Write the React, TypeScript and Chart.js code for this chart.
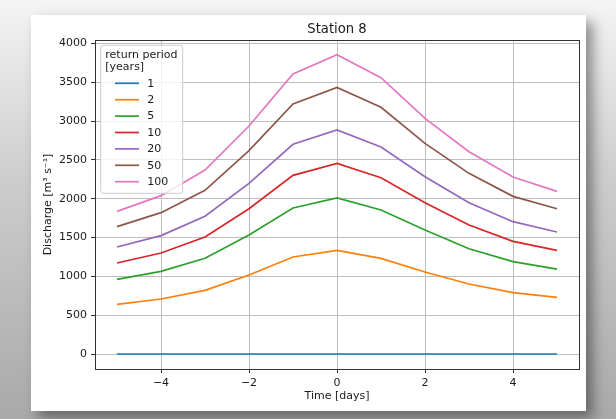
import React, { useEffect, useRef } from "react";
import { Chart, registerables } from "chart.js";

Chart.register(...registerables);

// ---- data ----
const chartTitle = "Station 8";
const xLabel = "Time [days]";
const yLabel = "Discharge [m\u00B3 s\u207B\u00B9]";
const legendTitle = ["return period", "[years]"];
const days = [-5, -4, -3, -2, -1, 0, 1, 2, 3, 4, 5];
const returnPeriods = ["1", "2", "5", "10", "20", "50", "100"];
const q1 = [0, 0, 0, 0, 0, 0, 0, 0, 0, 0, 0];
const q2 = [639, 708, 820, 1017, 1249, 1335, 1232, 1056, 901, 790, 730];
const q5 = [961, 1064, 1232, 1532, 1880, 2009, 1854, 1597, 1356, 1189, 1094];
const q10 = [1172, 1300, 1506, 1871, 2300, 2455, 2270, 1948, 1661, 1451, 1335];
const q20 = [1378, 1524, 1773, 2197, 2700, 2884, 2665, 2283, 1948, 1704, 1571];
const q50 = [1640, 1820, 2107, 2618, 3219, 3433, 3176, 2712, 2326, 2030, 1871];
const q100 = [1837, 2039, 2369, 2936, 3605, 3854, 3558, 3034, 2605, 2279, 2094];
const seriesValues = [q1, q2, q5, q10, q20, q50, q100];
const seriesColors = ["#1f77b4", "#ff7f0e", "#2ca02c", "#d62728", "#9467bd", "#8c564b", "#e377c2"];
const xTicks = [-4, -2, 0, 2, 4];
const yTicks = [0, 500, 1000, 1500, 2000, 2500, 3000, 3500, 4000];
const xMin = -5.5;
const xMax = 5.5;
const yMin = -193;
const yMax = 4043;

const FONT = "'DejaVu Sans', 'Liberation Sans', sans-serif";
const TEXT = "#1a1a1a";

const fmt = (v: number) => (v < 0 ? "\u2212" + Math.abs(v) : String(v));

const decorPlugin = {
  id: "decor",
  afterDatasetsDraw(chart: any) {
    const { ctx, chartArea } = chart;
    const { left, right, top, bottom } = chartArea;
    ctx.save();
    ctx.strokeStyle = "#333333";
    ctx.lineWidth = 1;
    ctx.strokeRect(Math.round(left) + 0.5, Math.round(top) + 0.5, Math.round(right - left), Math.round(bottom - top));
    ctx.fillStyle = TEXT;
    ctx.font = `13.2px ${FONT}`;
    ctx.textAlign = "center";
    ctx.textBaseline = "alphabetic";
    ctx.fillText(chartTitle, (left + right) / 2, top - 6.7);
    ctx.restore();
  },
  afterDraw(chart: any) {
    const { ctx, chartArea } = chart;
    const bx = chartArea.left + 5.7;
    const by = chartArea.top + 5.3;
    const bw = 82;
    const bh = 148;
    ctx.save();
    ctx.beginPath();
    const r = 2.5;
    ctx.moveTo(bx + r, by);
    ctx.lineTo(bx + bw - r, by);
    ctx.arcTo(bx + bw, by, bx + bw, by + r, r);
    ctx.lineTo(bx + bw, by + bh - r);
    ctx.arcTo(bx + bw, by + bh, bx + bw - r, by + bh, r);
    ctx.lineTo(bx + r, by + bh);
    ctx.arcTo(bx, by + bh, bx, by + bh - r, r);
    ctx.lineTo(bx, by + r);
    ctx.arcTo(bx, by, bx + r, by, r);
    ctx.closePath();
    ctx.fillStyle = "rgba(255,255,255,0.8)";
    ctx.fill();
    ctx.strokeStyle = "#cccccc";
    ctx.lineWidth = 1;
    ctx.stroke();
    ctx.font = `11px ${FONT}`;
    ctx.fillStyle = TEXT;
    ctx.textAlign = "left";
    ctx.textBaseline = "middle";
    legendTitle.forEach((t, i) => ctx.fillText(t, bx + 4.6, by + 9.6 + 12 * i));
    returnPeriods.forEach((label, i) => {
      const cy = by + 38 + 16.4 * i;
      ctx.strokeStyle = seriesColors[i];
      ctx.lineWidth = 1.7;
      ctx.beginPath();
      ctx.moveTo(bx + 14.3, cy);
      ctx.lineTo(bx + 38.3, cy);
      ctx.stroke();
      ctx.fillText(label, bx + 46.6, cy + 0.5);
    });
    ctx.restore();
  },
};

export default function App() {
  const ref = useRef<HTMLCanvasElement | null>(null);
  useEffect(() => {
    if (!ref.current) return;
    const chart = new Chart(ref.current, {
      type: "line",
      data: {
        datasets: seriesValues.map((vals, i) => ({
          label: returnPeriods[i],
          data: days.map((d, j) => ({ x: d, y: vals[j] })),
          borderColor: seriesColors[i],
          backgroundColor: seriesColors[i],
          borderWidth: 1.7,
          pointRadius: 0,
          tension: 0,
          fill: false,
        })),
      },
      options: {
        responsive: false,
        animation: false,
        devicePixelRatio: 1,
        layout: { padding: { top: 25, right: 7, bottom: 0, left: 0 } },
        plugins: { legend: { display: false }, tooltip: { enabled: false }, title: { display: false } },
        scales: {
          x: {
            type: "linear",
            min: xMin,
            max: xMax,
            afterBuildTicks: (s: any) => {
              s.ticks = xTicks.map((v) => ({ value: v }));
            },
            afterFit: (s: any) => {
              s.height = 42;
            },
            border: { display: false },
            grid: { color: "#bdbdbd", lineWidth: 1, tickLength: 4, tickColor: "#333333", drawTicks: true },
            ticks: { padding: 4, color: TEXT, font: { size: 11, family: FONT }, maxRotation: 0, callback: (v: any) => fmt(Number(v)) },
            title: { display: true, text: xLabel, color: TEXT, font: { size: 11, family: FONT }, padding: { top: 0, bottom: 8 } },
          },
          y: {
            type: "linear",
            min: yMin,
            max: yMax,
            afterBuildTicks: (s: any) => {
              s.ticks = yTicks.map((v) => ({ value: v }));
            },
            afterFit: (s: any) => {
              s.width = 64;
            },
            border: { display: false },
            grid: { color: "#bdbdbd", lineWidth: 1, tickLength: 4, tickColor: "#333333", drawTicks: true },
            ticks: { padding: 4, color: TEXT, font: { size: 11, family: FONT }, callback: (v: any) => fmt(Number(v)) },
            title: { display: true, text: yLabel, color: TEXT, font: { size: 11, family: FONT }, padding: { top: 11, bottom: 0 } },
          },
        },
      },
      plugins: [decorPlugin],
    } as any);
    return () => chart.destroy();
  }, []);

  return (
    <div
      style={{
        position: "fixed",
        left: 0,
        top: 0,
        width: 616,
        height: 419,
        overflow: "hidden",
        background: "linear-gradient(to bottom, #f4f4f4 0%, #cfcfcf 40%, #a9a9a9 100%)",
      }}
    >
      <div
        style={{
          position: "absolute",
          left: 31,
          top: 15,
          width: 555,
          height: 396,
          background: "#ffffff",
          boxShadow: "7px 7px 12px rgba(0,0,0,0.4)",
        }}
      >
        <canvas ref={ref} width={555} height={396} style={{ display: "block", width: 555, height: 396 }} />
      </div>
    </div>
  );
}
